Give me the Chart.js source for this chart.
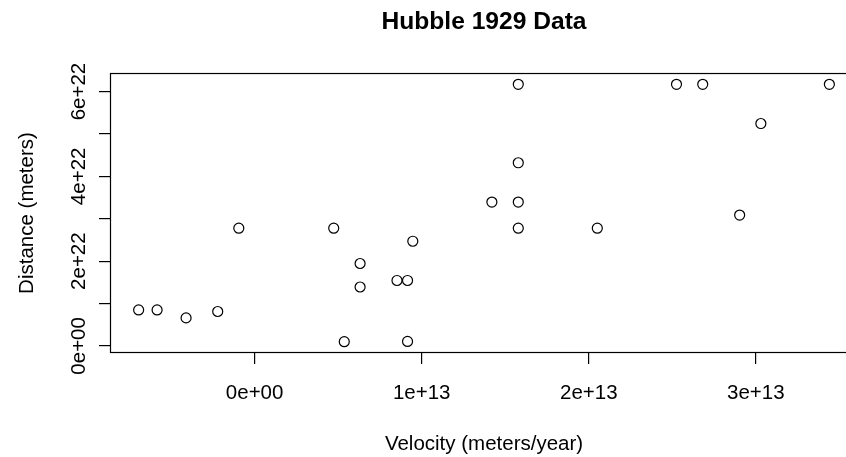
<!DOCTYPE html>
<html>
<head>
<meta charset="utf-8">
<script src="https://cdn.jsdelivr.net/npm/chart.js@4/dist/chart.umd.min.js"></script>
<style>
  html, body { margin: 0; padding: 0; background: #fff; overflow: hidden; }
  #wrap { position: relative; width: 880px; height: 457px; }
</style>
</head>
<body>
<div id="wrap"><canvas id="c"></canvas></div>
<script>
// Hubble 1929 data, converted: velocity in meters/year, distance in meters
const velocity = [
  5.365e12, 9.152e12, -4.103e12, -2.209e12, -5.838e12, -6.943e12,
  6.312e12, 9.152e12, 8.521e12, 6.312e12, 9.467e12, -9.47e11,
  2.051e13, 4.734e12, 1.578e13, 2.903e13, 1.420e13, 1.578e13,
  1.578e13, 3.030e13, 1.578e13, 2.682e13, 2.525e13, 3.440e13
];
const distance = [
  9.87e20, 1.049e21, 6.603e21, 8.115e21, 8.486e21, 8.486e21,
  1.389e22, 1.543e22, 1.543e22, 1.944e22, 2.469e22, 2.777e22,
  2.777e22, 2.777e22, 2.777e22, 3.086e22, 3.394e22, 3.394e22,
  4.320e22, 5.246e22, 6.171e22, 6.171e22, 6.171e22, 6.171e22
];
const xTicks = [0, 1e13, 2e13, 3e13];
const yTicks = [0, 1e22, 2e22, 3e22, 4e22, 5e22, 6e22];
const yLabelTicks = [0, 2e22, 4e22, 6e22];

const titleText = 'Hubble 1929 Data';
const xTitle = 'Velocity (meters/year)';
const yTitle = 'Distance (meters)';

// R-style axis extension of 4% on each side
const xMinD = Math.min(...velocity), xMaxD = Math.max(...velocity);
const yMinD = Math.min(...distance), yMaxD = Math.max(...distance);
const xPad = (xMaxD - xMinD) * 0.04, yPad = (yMaxD - yMinD) * 0.04;

function sci(v) {
  if (v === 0) return '0e+00';
  const s = v.toExponential();
  const parts = s.split('e');
  const sign = parts[1][0];
  const ex = parts[1].slice(1).padStart(2, '0');
  return parts[0] + 'e' + sign + ex;
}

const FONT = "'Liberation Sans', Arial, Helvetica, sans-serif";
const FS = 20.5;

const boxPlugin = {
  id: 'box',
  afterDraw(chart) {
    const a = chart.chartArea;
    const ctx = chart.ctx;
    ctx.save();
    ctx.strokeStyle = '#000';
    ctx.lineWidth = 1.2;
    ctx.strokeRect(a.left - 0.5, a.top - 0.5, a.right - a.left + 1, a.bottom - a.top + 1);
    ctx.restore();
  }
};

new Chart(document.getElementById('c'), {
  type: 'scatter',
  data: {
    datasets: [{
      data: velocity.map((v, i) => ({ x: v, y: distance[i] })),
      pointStyle: 'circle',
      pointRadius: 5,
      pointHoverRadius: 5,
      borderColor: '#000',
      backgroundColor: 'rgba(0,0,0,0)',
      borderWidth: 1.2
    }]
  },
  options: {
    responsive: true,
    maintainAspectRatio: false,
    animation: false,
    events: [],
    layout: { padding: { left: 0, right: 23, top: 0, bottom: 0 } },
    plugins: {
      legend: { display: false },
      tooltip: { enabled: false },
      title: {
        display: true,
        text: titleText,
        fullSize: false,
        color: '#000',
        font: { family: FONT, size: 24.6, weight: 'bold' },
        padding: { top: 7.5, bottom: 37 }
      }
    },
    scales: {
      x: {
        type: 'linear',
        min: xMinD - xPad,
        max: xMaxD + xPad,
        afterBuildTicks: s => { s.ticks = xTicks.map(v => ({ value: v })); },
        afterFit: s => { s.height = 105; },
        grid: { drawOnChartArea: false, drawTicks: true, tickLength: 12, color: '#000', lineWidth: 1.2 },
        border: { display: false },
        ticks: {
          autoSkip: false, maxRotation: 0, minRotation: 0,
          color: '#000', font: { family: FONT, size: FS }, padding: 17,
          callback: v => sci(v)
        },
        title: {
          display: true, text: xTitle, color: '#000',
          font: { family: FONT, size: FS }, padding: { top: 0, bottom: 0 }
        }
      },
      y: {
        type: 'linear',
        min: yMinD - yPad,
        max: yMaxD + yPad,
        afterBuildTicks: s => { s.ticks = yTicks.map(v => ({ value: v })); },
        afterFit: s => { s.width = 111; },
        grid: { drawOnChartArea: false, drawTicks: true, tickLength: 12, color: '#000', lineWidth: 1.2 },
        border: { display: false },
        ticks: {
          autoSkip: false, minRotation: 90, maxRotation: 90, crossAlign: 'center',
          color: '#000', font: { family: FONT, size: FS }, padding: -9.5,
          callback: v => (yLabelTicks.includes(v) ? sci(v) : '')
        },
        title: {
          display: true, text: yTitle, color: '#000',
          font: { family: FONT, size: FS }, padding: { top: 14.7, bottom: 0 }
        }
      }
    }
  },
  plugins: [boxPlugin]
});
</script>
</body>
</html>
